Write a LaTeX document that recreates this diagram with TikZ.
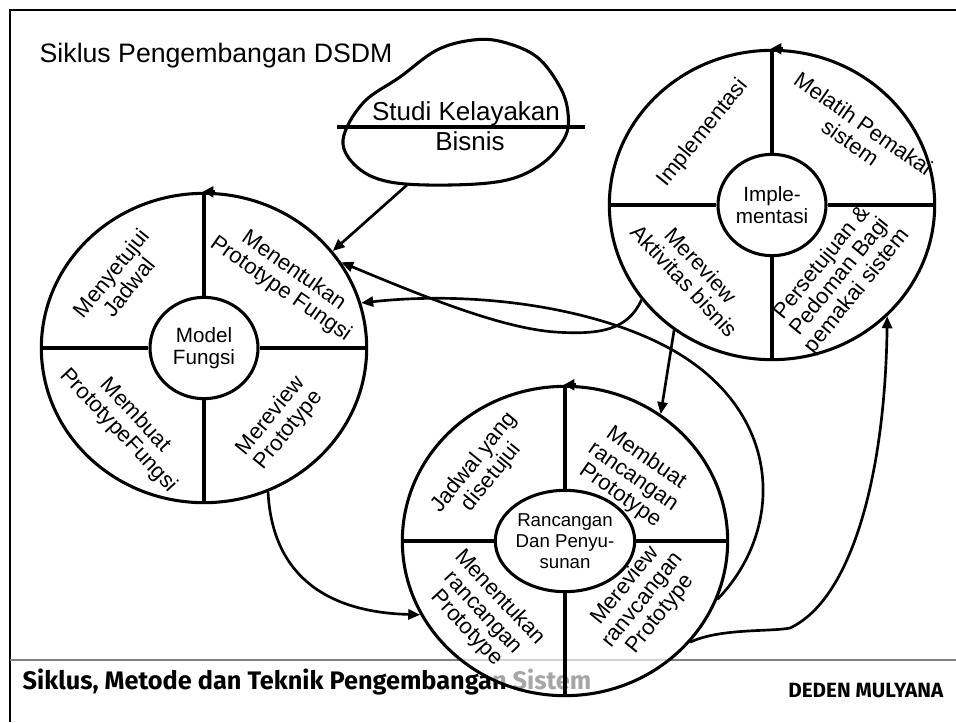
\documentclass[tikz,border=0pt]{standalone}
\usepackage{fontspec}
\setmainfont{Liberation Sans}
\newfontfamily\footfont{Fira Sans}
\usetikzlibrary{shapes.geometric,arrows.meta}

\begin{document}
\begin{tikzpicture}[x=0.75pt,y=-0.75pt,
	ring/.style={ellipse, draw, line width=2.3pt, fill=white, fill opacity=0.65, minimum width=244pt, minimum height=232pt, inner sep=0pt},
	hub/.style={ellipse, draw, line width=2.3pt, fill=white, minimum width=81pt, minimum height=76pt, inner sep=0pt, align=center, font=\fontsize{15.5}{16.5}\selectfont},
	quad/.style={align=center, inner sep=0pt, font=\fontsize{16.5}{17}\selectfont},
	spoke/.style={line width=2.3pt},
	arr/.style={line width=2pt, -{Triangle[length=9pt,width=7.5pt]}},
	turn/.style={line width=2.3pt, -{Triangle[length=8pt,width=8pt]}}]
	
	\useasboundingbox (0,0) rectangle (956,722);
	\fill[white] (0,0) rectangle (956,722);
	
	%Frame and footer
	\draw[line width=2pt] (10,722) -- (10,10) -- (956,10);
	\draw[gray, line width=1.2pt] (10,660) -- (956,660);
	\node[font=\footfont\bfseries\fontsize{19}{22}\selectfont, anchor=base west] (kaki) at (18,689) {Siklus, Metode dan Teknik Pengembangan Sistem};
	\node[font=\footfont\bfseries\fontsize{15.5}{18}\selectfont, anchor=base east] (penulis) at (948,697) {DEDEN MULYANA};
	
	\node[font=\fontsize{20}{24}\selectfont, anchor=base west] (judul) at (35,62) {Siklus Pengembangan DSDM};
	
	%Studi Kelayakan
	\draw[line width=2.3pt] plot[smooth cycle, tension=0.6] coordinates {(343,140) (357,167) (390,182) (450,185) (507,180) (543,163) (565,137) (568,113) (560,87) (537,57) (503,42) (473,40) (437,50) (400,77) (363,103)};
	\draw[line width=2.3pt] (337,127) -- (585,127);
	\node[font=\fontsize{19.5}{22}\selectfont, anchor=base] (studiA) at (466,120) {Studi Kelayakan};
	\node[font=\fontsize{19.5}{22}\selectfont, anchor=base] (studiB) at (470,150) {Bisnis};
	\coordinate (studiK) at (407,185);
	
	%One Siklus-Circle
	\def\x{204}
	\def\y{348}
	\node[ring] (fungsi) at (\x,\y) {};
	\node[hub] (fungsiH) at (\x,\y) {Model\\Fungsi};
	\draw[spoke] (fungsi.north) -- (fungsiH.north);
	\draw[spoke] (fungsi.south) -- (fungsiH.south);
	\draw[spoke] (fungsi.west) -- (fungsiH.west);
	\draw[spoke] (fungsi.east) -- (fungsiH.east);
	\draw[turn] ([xshift=8pt]fungsi.north) -- ([xshift=-1pt]fungsi.north);
	\node[quad, rotate=51] (fungsiA) at (\x-84,\y-68) {Menyetujui\\Jadwal};
	\node[quad, rotate=-35] (fungsiB) at (\x+83,\y-68) {Menentukan\\Prototype Fungsi};
	\node[quad, rotate=-47] (fungsiC) at (\x-77,\y+75) {Membuat\\PrototypeFungsi};
	\node[quad, rotate=51] (fungsiD) at (\x+76,\y+75) {Mereview\\Prototype};
	
	%One Siklus-Circle
	\def\x{772}
	\def\y{205}
	\node[ring] (impl) at (\x,\y) {};
	\node[hub] (implH) at (\x,\y) {Imple-\\mentasi};
	\draw[spoke] (impl.north) -- (implH.north);
	\draw[spoke] (impl.south) -- (implH.south);
	\draw[spoke] (impl.west) -- (implH.west);
	\draw[spoke] (impl.east) -- (implH.east);
	\draw[turn] ([xshift=8pt]impl.north) -- ([xshift=-1pt]impl.north);
	\node[quad, rotate=51] (implA) at (\x-69,\y-72) {Implementasi};
	\node[quad, rotate=-35] (implB) at (\x+85,\y-72) {Melatih Pemakai\\sistem};
	\node[quad, rotate=-47] (implC) at (\x-79,\y+68) {Mereview\\Aktivitas bisnis};
	\node[quad, rotate=51] (implD) at (\x+68,\y+72) {Persetujuan \&\\Pedoman Bagi\\pemakai sistem};
	
	%One Siklus-Circle
	\def\x{565}
	\def\y{541}
	\node[ring] (rancangan) at (\x,\y) {};
	\node[hub, font=\fontsize{14}{15.5}\selectfont] (rancanganH) at (\x,\y) {Rancangan\\Dan Penyu-\\sunan};
	\draw[spoke] (rancangan.north) -- (rancanganH.north);
	\draw[spoke] (rancangan.south) -- (rancanganH.south);
	\draw[spoke] (rancangan.west) -- (rancanganH.west);
	\draw[spoke] (rancangan.east) -- (rancanganH.east);
	\draw[turn] ([xshift=8pt]rancangan.north) -- ([xshift=-1pt]rancangan.north);
	\node[quad, rotate=51] (rancanganA) at (\x-82,\y-71) {Jadwal yang\\disetujui};
	\node[quad, rotate=-35] (rancanganB) at (\x+68,\y-64) {Membuat\\rancangan\\Prototype};
	\node[quad, rotate=-47] (rancanganC) at (\x-82,\y+72) {Menentukan\\rancangan\\Prototype};
	\node[quad, rotate=51] (rancanganD) at (\x+78,\y+59) {Mereview\\ranvcangan\\Prototype};
	
	%Arrows between the cycles
	\draw[arr] (studiK) -- (fungsi.37);
	\draw[arr] (impl.216) .. controls (628,330) and (600,335) .. (555,332) .. controls (500,328) and (420,295) .. (fungsi.32);
	\draw[arr] (rancangan.-21) .. controls (785,530) and (785,410) .. (667,347) .. controls (596,309) and (480,290) .. (fungsi.16);
	\draw[arr] (impl.232) -- (rancangan.53);
	\draw[arr] (rancangan.-39) .. controls (720,628) and (770,632) .. (790,628) .. controls (850,600) and (885,480) .. (impl.-44);
	\draw[arr] (fungsi.-66) .. controls (272,570) and (320,612) .. (rancangan.207);
\end{tikzpicture}
\end{document}
